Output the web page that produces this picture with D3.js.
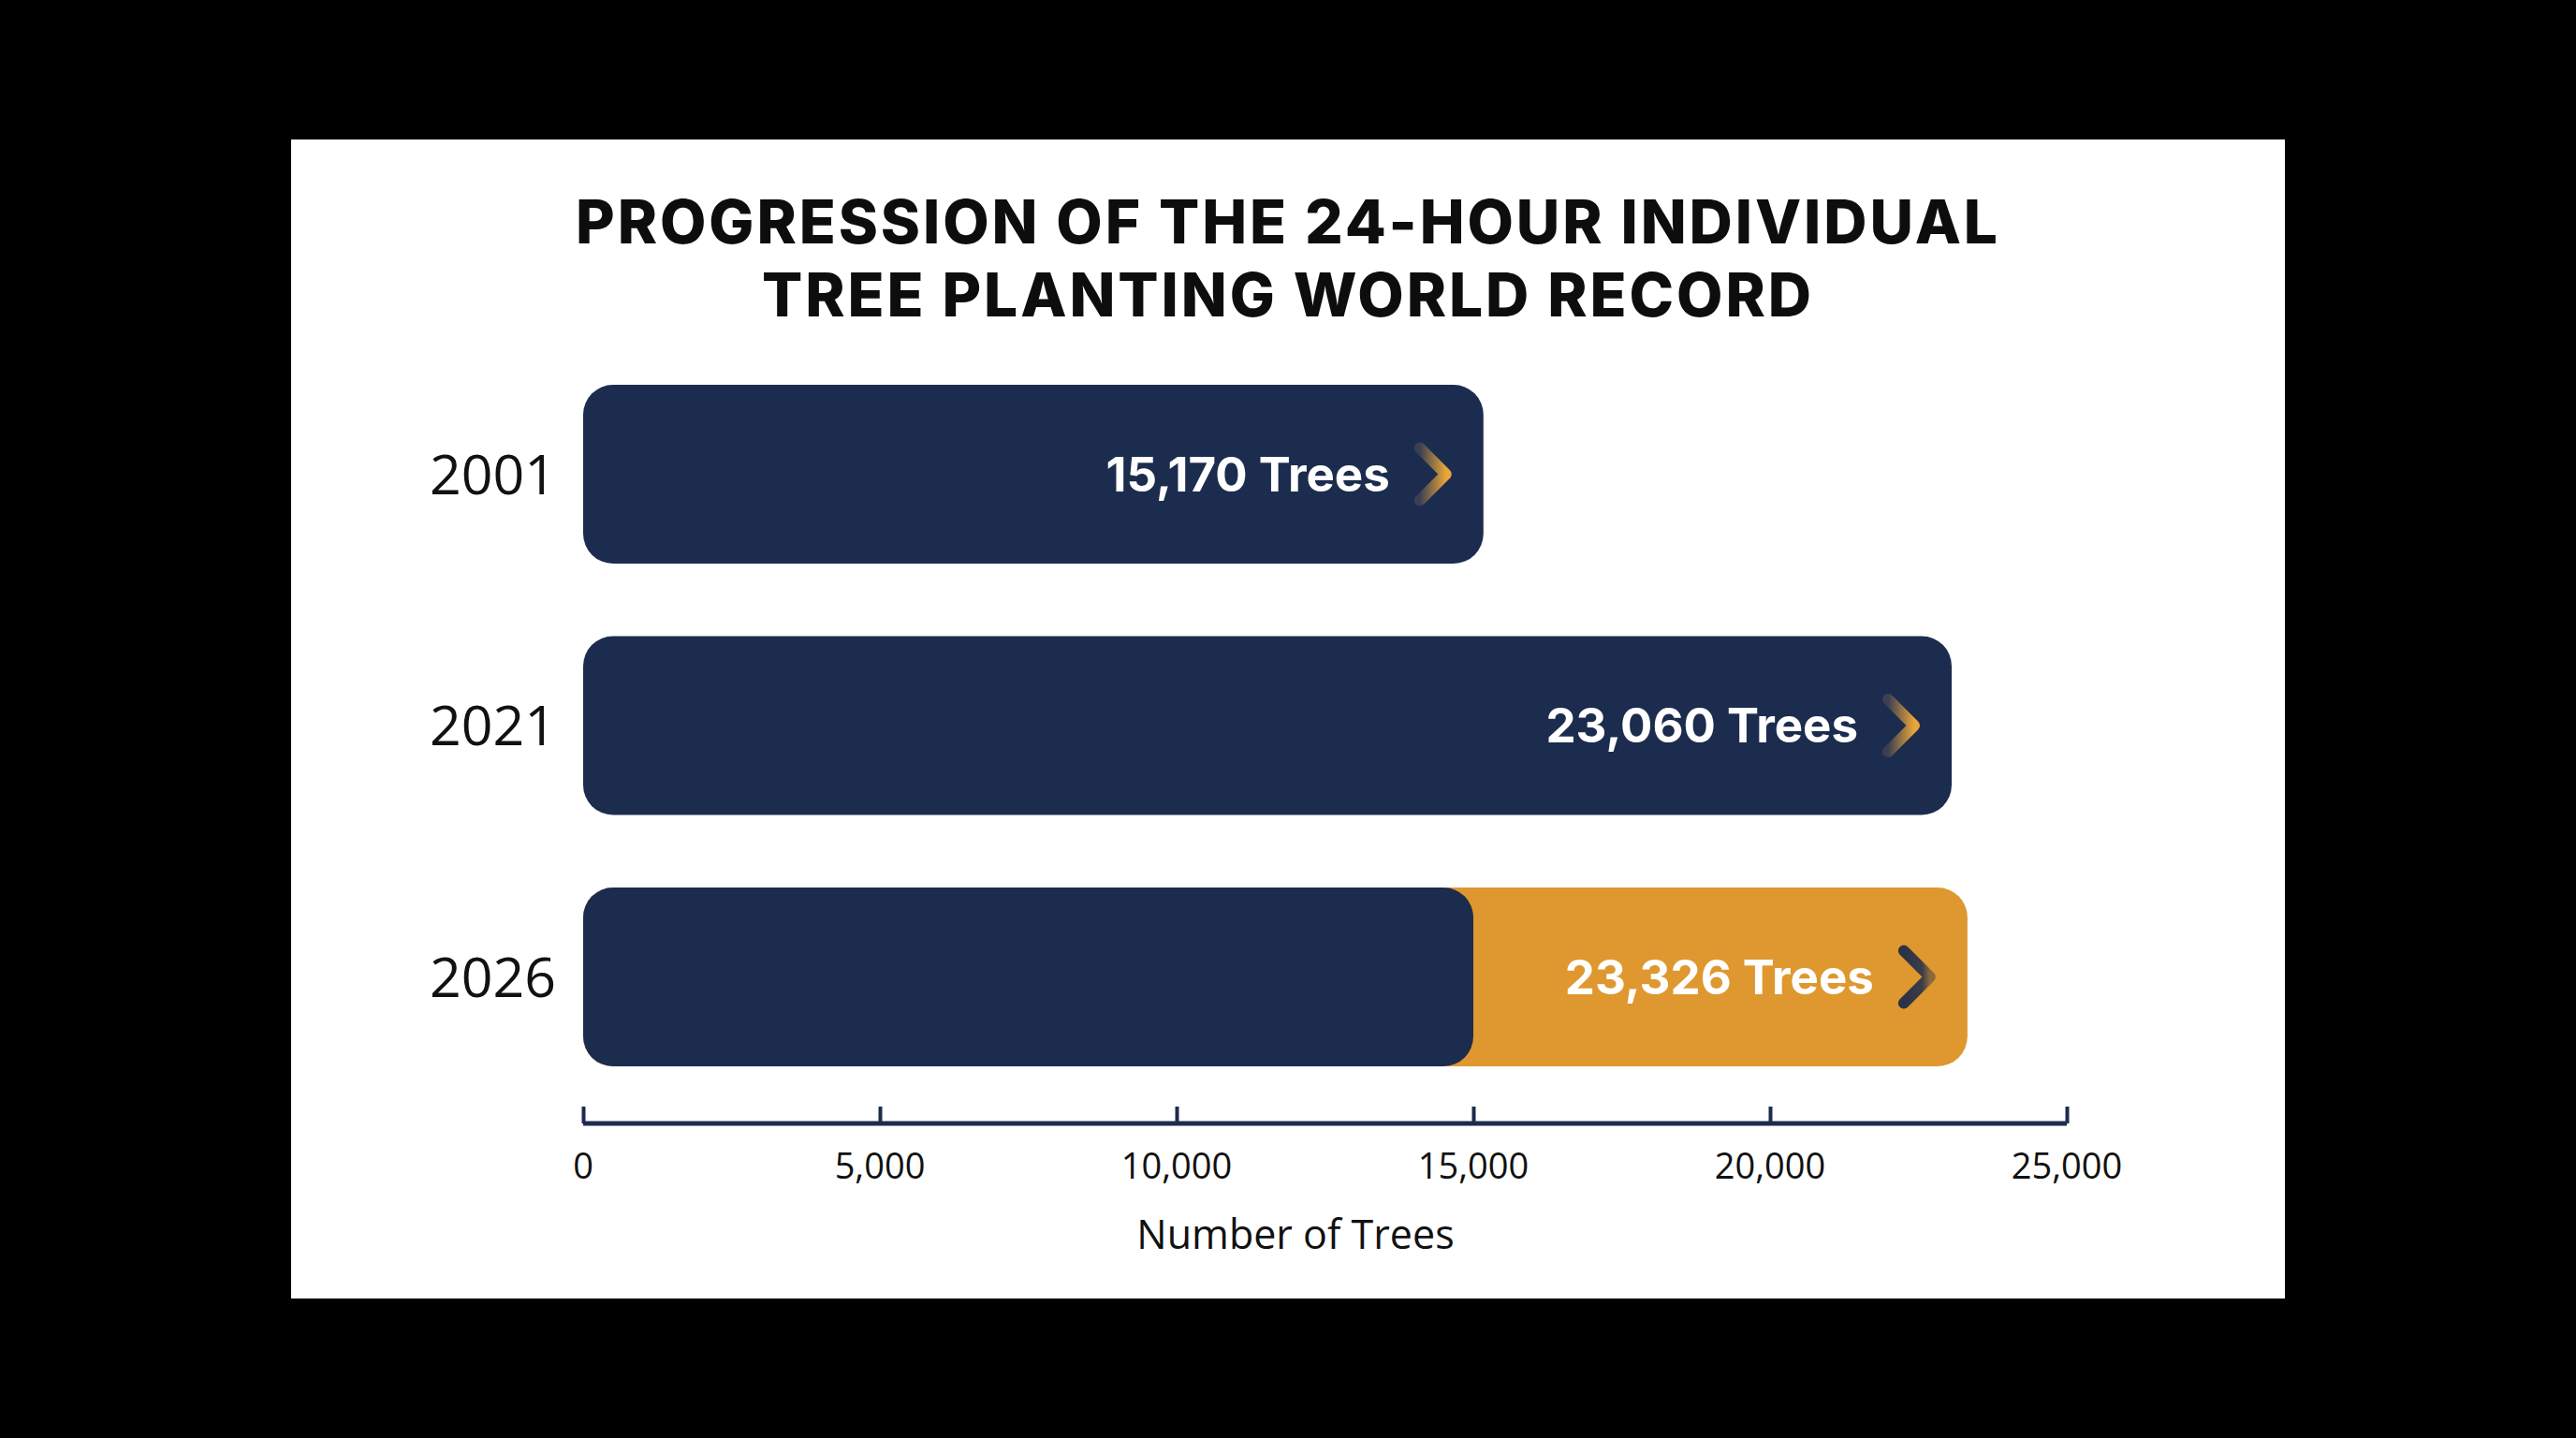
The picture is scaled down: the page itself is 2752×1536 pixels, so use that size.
<!DOCTYPE html>
<html>
<head>
<meta charset="utf-8">
<script src="https://cdn.jsdelivr.net/npm/d3@7"></script>
<style>
  html, body { margin: 0; padding: 0; background: #000; }
  svg { display: block; }
</style>
</head>
<body>
<script>
// ---- data ----
const titleLines = ["PROGRESSION OF THE 24-HOUR INDIVIDUAL", "TREE PLANTING WORLD RECORD"];
const years = ["2001", "2021", "2026"];
const recordValues = [15170, 23060, 23326];
const baseValues = [null, null, 15000];      // navy segment in the 2026 bar
const highlightYear = "2026";
const tickValues = [0, 5000, 10000, 15000, 20000, 25000];
const xAxisTitle = "Number of Trees";

// ---- layout ----
const W = 2752, H = 1536;
const panel = { x: 311, y: 149, w: 2130, h: 1238 };
const xRange = [623, 2208];
const yTop = 411;
const barH = 191, gap = 77.5;
const axisY = 1200;

const navy = "#1c2c4e";
const orange = "#de982f";

const svg = d3.select("body").append("svg").attr("width", W).attr("height", H);
svg.append("rect").attr("width", W).attr("height", H).attr("fill", "#000");
svg.append("rect").attr("x", panel.x).attr("y", panel.y).attr("width", panel.w).attr("height", panel.h).attr("fill", "#fff");

const defs = svg.append("defs");
const gOr = defs.append("linearGradient").attr("id", "chevOrange").attr("x1", "0%").attr("x2", "100%");
gOr.append("stop").attr("offset", "0%").attr("stop-color", "#3a3f52");
gOr.append("stop").attr("offset", "100%").attr("stop-color", "#e9a53a");
const gDk = defs.append("linearGradient").attr("id", "chevDark").attr("x1", "0%").attr("x2", "100%");
gDk.append("stop").attr("offset", "0%").attr("stop-color", "#2b3247");
gDk.append("stop").attr("offset", "70%").attr("stop-color", "#3b3d48");
gDk.append("stop").attr("offset", "100%").attr("stop-color", "#8a6a3c");

// title
const title = svg.append("g").attr("font-family", "Inter, 'Open Sans', sans-serif").attr("font-weight", 800)
  .attr("font-size", 64).attr("fill", "#0d0d0d").attr("text-anchor", "middle");
const titleTargets = [1522, 1124];
title.selectAll("text").data(titleLines).join("text")
  .attr("x", panel.x + panel.w / 2)
  .attr("y", (d, i) => 260 + i * 78)
  .text(d => d)
  .each(function(d, i) {
    const len = this.getComputedTextLength();
    const ls = (titleTargets[i] - len) / d.length;
    d3.select(this).attr("letter-spacing", ls.toFixed(2));
  });

// scales
const x = d3.scaleLinear().domain([0, 25000]).range(xRange);
const y = d3.scaleBand().domain(years)
  .range([yTop, yTop + 3 * barH + 2 * gap])
  .paddingInner(gap / (barH + gap)).paddingOuter(0);

const data = years.map((yr, i) => ({ year: yr, value: recordValues[i], base: baseValues[i] }));
const r = 32;

const bars = svg.append("g");
bars.selectAll("rect.full").data(data).join("rect")
  .attr("class", "full")
  .attr("x", x(0)).attr("y", d => y(d.year))
  .attr("width", d => x(d.value) - x(0))
  .attr("height", y.bandwidth())
  .attr("rx", r).attr("ry", r)
  .attr("fill", d => d.year === highlightYear ? orange : navy);
bars.selectAll("rect.base").data(data.filter(d => d.base != null)).join("rect")
  .attr("class", "base")
  .attr("x", x(0)).attr("y", d => y(d.year))
  .attr("width", d => x(d.base) - x(0))
  .attr("height", y.bandwidth())
  .attr("rx", r).attr("ry", r)
  .attr("fill", navy);

// value labels
const fmt = d3.format(",");
const labels = svg.append("g");
labels.selectAll("text").data(data).join("text")
  .attr("x", d => x(d.value) - 100)
  .attr("y", d => y(d.year) + y.bandwidth() / 2)
  .attr("dy", "0.36em")
  .attr("text-anchor", "end")
  .attr("font-family", "Inter, 'Open Sans', sans-serif")
  .attr("font-weight", 700)
  .attr("font-size", 51)
  .attr("fill", "#fff")
  .text(d => fmt(d.value) + " Trees");

// chevrons
labels.selectAll("path").data(data).join("path")
  .attr("d", d => {
    const cx = x(d.value), cy = y(d.year) + y.bandwidth() / 2;
    return `M${cx - 68},${cy - 28} L${cx - 40},${cy} L${cx - 68},${cy + 28}`;
  })
  .attr("fill", "none")
  .attr("stroke", d => d.year === highlightYear ? "url(#chevDark)" : "url(#chevOrange)")
  .attr("stroke-width", 12)
  .attr("stroke-linecap", "round")
  .attr("stroke-linejoin", "round");

// year labels
svg.append("g").selectAll("text").data(years).join("text")
  .attr("x", 594)
  .attr("y", d => y(d) + y.bandwidth() / 2)
  .attr("dy", "0.36em")
  .attr("text-anchor", "end")
  .attr("font-family", "'Open Sans', sans-serif")
  .attr("font-size", 59)
  .attr("fill", "#111")
  .text(d => d);

// x axis
const axisG = svg.append("g").attr("transform", `translate(0,${axisY})`)
  .call(d3.axisTop(x).tickValues(tickValues).tickSize(18).tickFormat(() => ""));
axisG.select(".domain").attr("stroke", navy).attr("stroke-width", 5)
  .attr("d", `M${xRange[0]},0H${xRange[1]}`);
axisG.selectAll(".tick line").attr("stroke", navy).attr("stroke-width", 4);

svg.append("g").selectAll("text").data(tickValues).join("text")
  .attr("x", d => x(d))
  .attr("y", 1259)
  .attr("text-anchor", "middle")
  .attr("font-family", "'Open Sans', sans-serif")
  .attr("font-size", 38)
  .attr("fill", "#111")
  .text(d => fmt(d));

svg.append("text")
  .attr("x", 1384)
  .attr("y", 1334)
  .attr("text-anchor", "middle")
  .attr("font-family", "'Open Sans', sans-serif")
  .attr("font-size", 43)
  .attr("fill", "#111")
  .text(xAxisTitle);
</script>
</body>
</html>
